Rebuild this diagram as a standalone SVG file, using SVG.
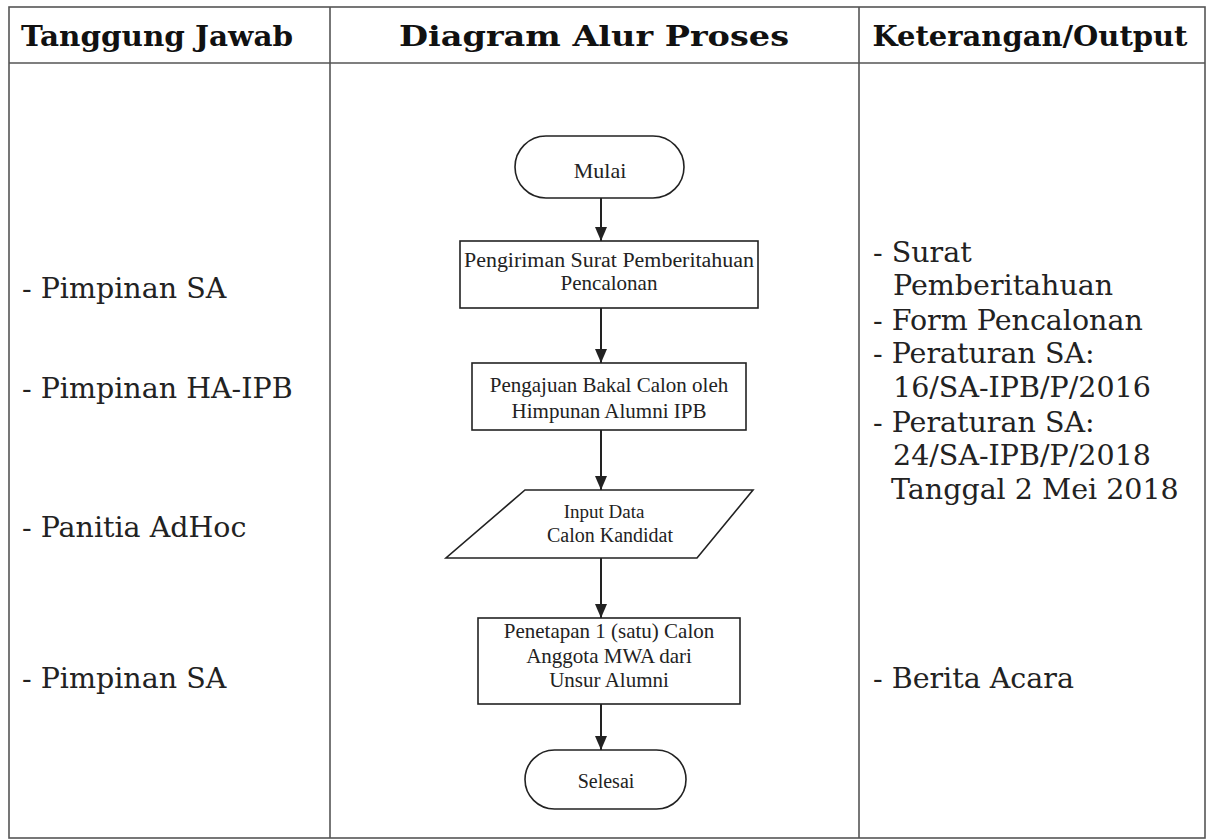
<svg xmlns="http://www.w3.org/2000/svg" width="1207" height="840" viewBox="0 0 1207 840">
<style>
.grid{stroke:#555;stroke-width:1.6;fill:none}
.hdr{font-family:"DejaVu Serif","Liberation Serif",serif;font-weight:bold;font-size:27px;fill:#111;text-anchor:middle}
.col{font-family:"DejaVu Serif","Liberation Serif",serif;font-size:28.5px;fill:#222}
.shape{fill:#fff;stroke:#222;stroke-width:1.6}
.fc{font-family:"Liberation Serif","Times New Roman",serif;font-size:20px;fill:#222;text-anchor:middle}
.conn{stroke:#222;stroke-width:2;fill:none;marker-end:url(#arr)}
</style>
<defs>
<marker id="arr" viewBox="0 0 14 12" refX="14" refY="6" markerWidth="14" markerHeight="12" markerUnits="userSpaceOnUse" orient="auto">
<path d="M0,0 L14,6 L0,12 Z" fill="#222"/>
</marker>
</defs>
<rect width="1207" height="840" fill="#fff"/>
<g id="table">
<rect class="grid" x="9" y="7" width="1196" height="831"/>
<line class="grid" x1="9" y1="63" x2="1205" y2="63"/>
<line class="grid" x1="330" y1="7" x2="330" y2="838"/>
<line class="grid" x1="859" y1="7" x2="859" y2="838"/>
</g>
<g id="headers">
<text class="hdr" x="157" y="46" textLength="272" lengthAdjust="spacingAndGlyphs">Tanggung Jawab</text>
<text class="hdr" x="594" y="46" textLength="390" lengthAdjust="spacingAndGlyphs">Diagram Alur Proses</text>
<text class="hdr" x="1030" y="46" textLength="315" lengthAdjust="spacingAndGlyphs">Keterangan/Output</text>
</g>
<g id="tanggung-jawab">
<text class="col" x="22" y="298">- Pimpinan SA</text>
<text class="col" x="22" y="398">- Pimpinan HA-IPB</text>
<text class="col" x="22" y="537">- Panitia AdHoc</text>
<text class="col" x="22" y="688">- Pimpinan SA</text>
</g>
<g id="keterangan">
<text class="col" x="873" y="262">- Surat</text>
<text class="col" x="893" y="295">Pemberitahuan</text>
<text class="col" x="873" y="330">- Form Pencalonan</text>
<text class="col" x="873" y="363">- Peraturan SA:</text>
<text class="col" x="893" y="397">16/SA-IPB/P/2016</text>
<text class="col" x="873" y="432">- Peraturan SA:</text>
<text class="col" x="893" y="465">24/SA-IPB/P/2018</text>
<text class="col" x="891" y="499">Tanggal 2 Mei 2018</text>
<text class="col" x="873" y="688">- Berita Acara</text>
</g>
<g id="connectors">
<line class="conn" x1="601" y1="198" x2="601" y2="241"/>
<line class="conn" x1="601" y1="308" x2="601" y2="363"/>
<line class="conn" x1="601" y1="430" x2="601" y2="490"/>
<line class="conn" x1="601" y1="558" x2="601" y2="618"/>
<line class="conn" x1="601" y1="704" x2="601" y2="750"/>
</g>
<g id="mulai">
<rect class="shape" x="515" y="136" width="169" height="62" rx="31" ry="31"/>
<text class="fc" x="600" y="178" style="font-size:22px">Mulai</text>
</g>
<g id="pengiriman">
<rect class="shape" x="460" y="241" width="298" height="67"/>
<text class="fc" x="609" y="267" textLength="290" lengthAdjust="spacingAndGlyphs">Pengiriman Surat Pemberitahuan</text>
<text class="fc" x="609" y="290" style="font-size:21px">Pencalonan</text>
</g>
<g id="pengajuan">
<rect class="shape" x="472" y="363" width="274" height="67"/>
<text class="fc" x="609" y="392" style="font-size:21px">Pengajuan Bakal Calon oleh</text>
<text class="fc" x="609" y="418" style="font-size:21px">Himpunan Alumni IPB</text>
</g>
<g id="input-data">
<polygon class="shape" points="525,490 753,490 697,558 446,558"/>
<text class="fc" x="604" y="518" style="font-size:19px">Input Data</text>
<text class="fc" x="610" y="542">Calon Kandidat</text>
</g>
<g id="penetapan">
<rect class="shape" x="478" y="618" width="262" height="86"/>
<text class="fc" x="609" y="638" style="font-size:21px">Penetapan 1 (satu) Calon</text>
<text class="fc" x="609" y="663" style="font-size:21px">Anggota MWA dari</text>
<text class="fc" x="609" y="687" style="font-size:21px">Unsur Alumni</text>
</g>
<g id="selesai">
<rect class="shape" x="525" y="750" width="161" height="59" rx="29.5" ry="29.5"/>
<text class="fc" x="606" y="788">Selesai</text>
</g>
</svg>
